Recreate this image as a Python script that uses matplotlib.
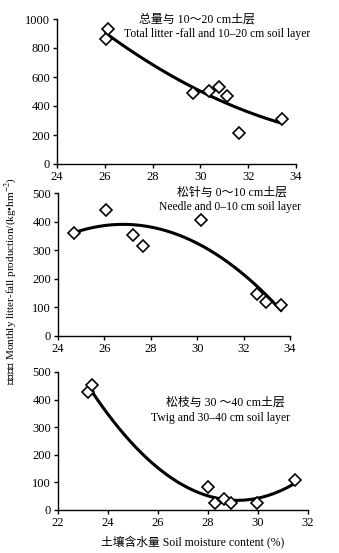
import numpy as np
import matplotlib
matplotlib.use("Agg")
import matplotlib.pyplot as plt

plt.rcParams['font.family'] = ['Liberation Serif', 'Noto Sans CJK SC']
plt.rcParams['mathtext.fontset'] = 'stix'

# Panel 1: total litter-fall vs 10-20 cm soil moisture
x1 = [26.05, 26.15, 29.7, 30.37, 30.77, 31.11, 31.63, 33.41]
y1 = [860, 929, 487, 506, 533, 469, 216, 313]
# Panel 2: needle vs 0-10 cm
x2 = [24.69, 26.07, 27.22, 27.65, 30.15, 32.59, 32.95, 33.61]
y2 = [361, 440, 352, 316, 404, 148, 118, 110]
# Panel 3: twig vs 30-40 cm
x3 = [23.19, 23.36, 28.01, 28.28, 28.65, 28.93, 29.97, 31.48]
y3 = [427, 453, 83, 26, 39, 27, 27, 107]

xticks1 = [24, 26, 28, 30, 32, 34]
yticks1 = [0, 200, 400, 600, 800, 1000]
xticks2 = [24, 26, 28, 30, 32, 34]
yticks2 = [0, 100, 200, 300, 400, 500]
xticks3 = [22, 24, 26, 28, 30, 32]
yticks3 = [0, 100, 200, 300, 400, 500]

W, H = 339, 553
fig = plt.figure(figsize=(W / 100, H / 100), dpi=100)

def rect(l, r, t, b):
    return [l / W, 1 - b / H, (r - l) / W, (b - t) / H]

panels = [
    (rect(57, 296, 19, 164), x1, y1, xticks1, yticks1, 2),
    (rect(58, 290, 193, 336), x2, y2, xticks2, yticks2, 2),
    (rect(58, 308, 372, 510), x3, y3, xticks3, yticks3, 2),
]

for pos, xs, ys, xt, yt, deg in panels:
    ax = fig.add_axes(pos)
    coef = np.polyfit(xs, ys, deg)
    xf = np.linspace(min(xs), max(xs), 200)
    ax.plot(xf, np.polyval(coef, xf), color='black', lw=2.2)
    ax.plot(xs, ys, linestyle='none', marker='D', markersize=6,
            markerfacecolor='white', markeredgecolor='black', markeredgewidth=1.2)
    ax.set_xlim(xt[0], xt[-1])
    ax.set_ylim(yt[0], yt[-1])
    ax.set_xticks(xt)
    ax.set_yticks(yt)
    for s in ['top', 'right']:
        ax.spines[s].set_visible(False)
    for s in ['left', 'bottom']:
        ax.spines[s].set_linewidth(1.0)
    ax.tick_params(direction='out', length=3, width=1, labelsize=9, pad=2)

def ftext(px, py, s, size):
    fig.text(px / W, 1 - py / H, s, ha='center', va='center', fontsize=size)

ftext(197, 20, '总量与 10～20 cm土层', 8.6)
ftext(217, 34, 'Total litter -fall and 10–20 cm soil layer', 8.4)
ftext(232, 193, '松针与 0～10 cm土层', 8.6)
ftext(230, 207, 'Needle and 0–10 cm soil layer', 8.4)
ftext(225, 403, '松枝与 30 ～40 cm土层', 8.6)
ftext(220, 418, 'Twig and 30–40 cm soil layer', 8.4)

fig.text(11 / W, 1 - 281 / H, '月凋落量 Monthly litter-fall production/(kg•hm$^{-2}$)',
         rotation=90, ha='center', va='center', fontsize=8)
fig.text(193 / W, 1 - 543 / H, '土壤含水量 Soil moisture content (%)',
         ha='center', va='center', fontsize=8.5)

fig.savefig('out.png', dpi=100)
